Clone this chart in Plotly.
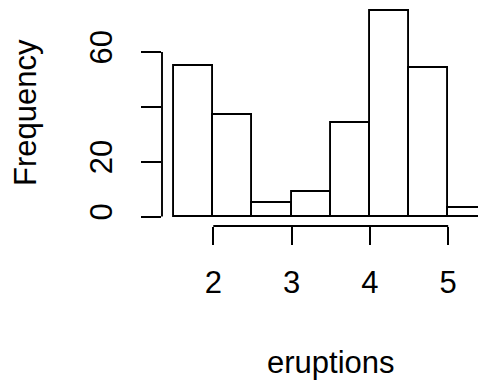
import plotly.graph_objects as go

# Histogram data (faithful$eruptions, breaks every 0.5)
bin_starts = [1.5, 2.0, 2.5, 3.0, 3.5, 4.0, 4.5, 5.0]
bin_width = 0.5
counts = [55, 37, 5, 9, 34, 75, 54, 3]
x_ticks = [2, 3, 4, 5]
x_ticklabels = ["2", "3", "4", "5"]
y_ticks = [0, 20, 40, 60]
y_ticklabels = ["0", "20", "", "60"]
x_title = "eruptions"
y_title = "Frequency"

FONT = "Liberation Sans, Arial, Helvetica, sans-serif"
FS = 31
LW = 1.9

centers = [s + bin_width / 2 for s in bin_starts]

fig = go.Figure()
fig.add_trace(go.Bar(
    x=centers, y=counts, width=[bin_width] * len(counts),
    marker=dict(color="white", line=dict(color="black", width=LW)),
    showlegend=False, hoverinfo="skip",
))

fig.update_layout(
    width=478, height=373,
    margin=dict(l=154, r=0, t=0, b=155, pad=0),
    paper_bgcolor="white", plot_bgcolor="white",
    font=dict(family=FONT, size=FS, color="black"),
    bargap=0,
    xaxis=dict(
        range=[1.345, 5.483], showgrid=False, zeroline=False, showline=False,
        tickmode="array", tickvals=x_ticks, ticktext=x_ticklabels,
        ticks="outside", ticklen=18, tickwidth=LW, tickcolor="black",
        tickfont=dict(size=FS, family=FONT), ticklabelstandoff=11,
    ),
    yaxis=dict(
        range=[-3.46, 76.04], showgrid=False, zeroline=False, showline=False,
        tickmode="array", tickvals=y_ticks, ticktext=y_ticklabels,
        ticks="outside", ticklen=20, tickwidth=LW, tickcolor="black",
        tickangle=-90, tickfont=dict(size=FS, family=FONT), ticklabelstandoff=17,
    ),
    shapes=[
        dict(type="line", xref="x", yref="paper", x0=min(x_ticks), x1=max(x_ticks),
             y0=0, y1=0, line=dict(color="black", width=LW)),
        dict(type="line", xref="paper", yref="y", x0=0, x1=0,
             y0=min(y_ticks), y1=max(y_ticks), line=dict(color="black", width=LW)),
    ],
    annotations=[
        dict(text=x_title, xref="x", yref="paper", x=3.5, y=0, yshift=-136,
             xanchor="center", yanchor="middle", showarrow=False,
             font=dict(size=FS, family=FONT)),
        dict(text=y_title, xref="paper", yref="paper", x=0, y=0.5, xshift=-137,
             yshift=4, textangle=-90, xanchor="center", yanchor="middle",
             showarrow=False, font=dict(size=FS, family=FONT)),
    ],
)

fig.write_html("out.html")
